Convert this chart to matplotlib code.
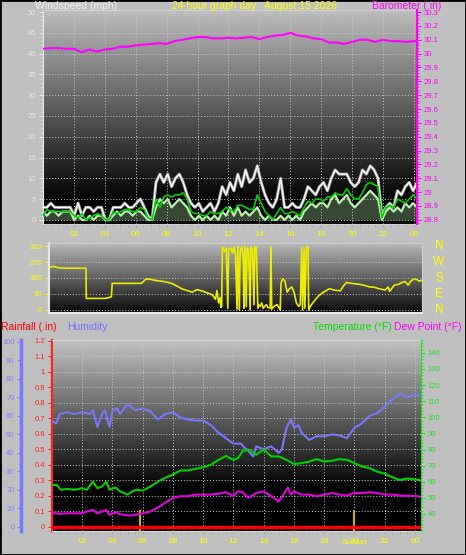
import numpy as np
import matplotlib
matplotlib.use('Agg')
import matplotlib.pyplot as plt
from matplotlib.ticker import MultipleLocator, FixedLocator, FuncFormatter
from matplotlib.transforms import blended_transform_factory
from matplotlib.patches import Rectangle

plt.rcParams['font.family'] = ['Liberation Sans', 'DejaVu Sans']

# wind (mph), one value per quarter hour
gust = [3, 3, 4, 3, 3, 3, 3, 3, 1, 4, 1, 3, 3, 2, 3, 3,
        0, 0, 3, 3, 3, 4, 3, 3, 4, 5, 3, 1, 0, 9, 11, 9,
        11, 8, 10, 11, 9, 6, 4, 3, 4, 2, 3, 4, 2, 4, 8, 6,
        9, 7, 11, 8, 12, 9, 10, 13, 9, 6, 4, 3, 5, 10, 3, 3,
        4, 3, 3, 5, 8, 7, 6, 8, 9, 7, 10, 12, 11, 11, 11, 9,
        8, 9, 12, 11, 13, 12, 10, 1, 3, 4, 3, 7, 6, 8, 9, 7, 9]
speed = [2, 1, 2, 2, 1, 2, 2, 2, 0, 1, 0, 0, 1, 0, 1, 1,
         0, 0, 1, 2, 1, 2, 2, 1, 2, 2, 1, 0, 0, 3, 5, 4,
         5, 3, 4, 5, 4, 3, 1, 0, 1, 0, 1, 0, 1, 0, 2, 1,
         3, 1, 3, 1, 2, 1, 2, 3, 1, 0, 1, 0, 0, 1, 0, 1,
         0, 1, 0, 2, 3, 4, 3, 4, 4, 3, 5, 6, 4, 5, 6, 4,
         3, 4, 5, 6, 7, 6, 5, 0, 2, 3, 2, 3, 2, 4, 3, 4, 3]
avg = [1, 2.5, 2, 2, 2, 2, 2, 2, 1, 0.5, 1.5, 0, 0.5, 1, 1.5, 1,
       0, 0, 2, 1.5, 2, 2.5, 2.5, 2, 2, 3, 2.5, 0.5, 0, 5, 3, 5.5,
       6, 5.5, 6, 6, 6.5, 5, 2, 1.5, 1.5, 1, 1, 2, 1.5, 1.5, 2, 3,
       2.5, 2, 3.5, 3.5, 3, 2.5, 2.5, 6, 4, 2, 1, 0, 1.5, 3, 1.5, 1.5,
       2, 1.5, 1, 3, 4.5, 4, 5, 5, 4.5, 5.5, 5.5, 6.5, 6, 6, 7.5, 6,
       5, 5, 6.5, 8.5, 9, 8.5, 8, 0.5, 3, 3.5, 3, 5, 4.5, 4, 5, 6, 5]

baro_t = [0, 0.5, 1, 1.5, 2, 2.5, 3, 3.5, 4, 4.5, 5, 5.5, 6, 6.5, 7, 7.5, 8, 8.5,
          9, 9.5, 10, 10.5, 11, 11.5, 12, 12.5, 13, 13.5, 14, 14.5, 15, 15.5, 16,
          16.5, 17, 17.5, 18, 18.5, 19, 19.5, 20, 20.5, 21, 21.5, 22, 22.5, 23, 23.5,
          24, 24.2]
baro = [30.035, 30.04, 30.04, 30.035, 30.035, 30.01, 30.03, 30.015, 30.03, 30.035,
        30.05, 30.05, 30.06, 30.065, 30.07, 30.075, 30.07, 30.09, 30.1, 30.11,
        30.12, 30.12, 30.11, 30.11, 30.115, 30.11, 30.115, 30.12, 30.105, 30.12,
        30.13, 30.135, 30.15, 30.13, 30.125, 30.11, 30.105, 30.08, 30.08, 30.07,
        30.085, 30.1, 30.1, 30.085, 30.1, 30.09, 30.09, 30.085, 30.09, 30.09]

# wind direction (degrees)
dir_t = [0, 0.3, 0.6, 1.0, 1.5, 2.0, 2.4, 2.42, 3.0, 3.6, 3.9, 4.05, 4.1, 5.0, 6.0, 6.3,
         6.6, 7.0, 7.3, 7.6, 8.0, 8.3, 8.6, 9.0, 9.3, 9.6, 10.0, 10.3, 10.6, 10.8, 10.9,
         11.0, 11.1, 11.15, 11.2, 11.25, 11.4, 11.5, 11.6, 11.65, 11.8, 11.9, 12.0, 12.1,
         12.2, 12.25, 12.35, 12.4, 12.5, 12.6, 12.65, 12.7, 12.8, 12.85, 12.95, 13.05,
         13.1, 13.2, 13.3, 13.35, 13.45, 13.55, 13.6, 13.7, 13.8, 13.9, 14.0, 14.1, 14.2,
         14.35, 14.4, 14.45, 14.6, 14.8, 15.0, 15.05, 15.15, 15.3, 15.45, 15.6, 15.75,
         15.9, 16.05, 16.2, 16.3, 16.4, 16.45, 16.55, 16.6, 16.7, 16.8, 16.85, 16.95,
         17.2, 17.5, 17.8, 18.0, 18.2, 18.5, 18.9, 19.1, 19.3, 19.6, 19.8, 20.1, 20.4,
         20.8, 21.1, 21.4, 21.8, 22.0, 22.1, 22.4, 22.7, 22.9, 23.1, 23.3, 23.5, 23.7,
         23.9, 24.0, 24.2]
dir_v = [240, 245, 238, 235, 235, 235, 235, 65, 65, 65, 70, 75, 150, 150, 150, 175,
         172, 165, 162, 158, 148, 135, 120, 108, 100, 115, 105, 95, 85, 60, 110,
         40, 70, 15, 20, 355, 330, 350, 10, 340,
         350, 320, 355, 310, 5, 360, 0, 330, 355, 300, 10, 360, 20, 350, 340, 0,
         355, 340, 30, 360, 350, 10, 30, 20, 40, 10, 20, 30, 15,
         10, 355, 5, 20, 30, 0, 150, 175, 165, 100, 120, 130,
         100, 40, 20, 30, 350, 0, 340, 10, 355, 360, 0, 20,
         50, 80, 100, 110, 120, 112, 108, 135, 155, 150, 148, 145, 140,
         130, 128, 120, 112, 130, 105, 140, 145, 155, 160, 140, 165, 175,
         170, 162, 168]

# humidity (%), temperature and dew point (F), rainfall (in)
hum_t = [0, 0.3, 0.5, 1, 1.5, 2, 2.5, 2.7, 3, 3.3, 3.5, 3.8, 4, 4.3, 4.5, 5, 5.5, 6,
         6.5, 7, 7.5, 8, 8.5, 9, 9.5, 10, 10.5, 11, 11.5, 12, 12.5, 12.7, 13, 13.3,
         13.5, 14, 14.5, 15, 15.2, 15.5, 15.8, 16, 16.3, 16.5, 17, 17.5, 18, 18.5, 19,
         19.5, 20, 20.5, 21, 21.5, 22, 22.5, 23, 23.5, 24, 24.3]
hum = [57, 56, 61, 62, 61, 62, 61, 63, 54, 61, 63, 54, 63, 64, 61, 66.5, 63, 64,
       62.5, 58, 61, 62, 59, 58, 57.5, 57.5, 55, 51, 48, 45, 45, 43, 41, 38,
       43.5, 42, 43.5, 40, 42, 53.5, 58, 53.5, 55, 51, 47, 49, 49, 50, 49.5,
       48, 53.5, 56, 60, 61.5, 65, 69, 72, 70, 71.5, 71]

temp_t = [0, 0.3, 0.6, 1, 1.5, 2, 2.3, 2.7, 3, 3.3, 3.6, 3.8, 4.2, 4.5, 5, 5.3, 5.6, 6,
          6.5, 7, 7.5, 8, 8.5, 9, 9.5, 10, 10.5, 11, 11.5, 12, 12.3, 12.6, 13, 13.5, 14,
          14.5, 15, 15.5, 16, 16.5, 17, 17.5, 18, 18.5, 19, 19.5, 20, 20.5, 21, 21.5,
          22, 22.5, 23, 23.5, 24, 24.3]
temp = [58, 58, 55, 55.5, 55, 56, 55, 60, 56, 57, 60, 55, 56.5, 54, 52, 54, 55, 54.5,
        57, 60, 62.5, 64.5, 67, 67, 68, 69, 70.5, 73.5, 76, 73.5, 74.6, 79, 80, 76.7, 80,
        75.7, 75.7, 73.6, 71, 71.5, 72.5, 74, 72.5, 73, 74, 73.6, 71.5, 69.5, 68.4, 66.3,
        65, 62.8, 61, 62, 61.5, 61]

dew_t = [0, 0.5, 1, 1.5, 2, 2.3, 2.7, 3, 3.3, 3.6, 3.8, 4.2, 4.5, 5, 5.5, 6, 6.5, 7,
         7.5, 8, 8.5, 9, 9.5, 10, 10.5, 11, 11.5, 12, 12.3, 12.6, 13, 13.5, 14, 14.5, 15,
         15.3, 15.6, 15.8, 16, 16.5, 17, 17.5, 18, 18.5, 19, 19.5, 20, 20.5, 21, 21.5,
         22, 22.5, 23, 23.5, 24, 24.3]
dew = [41, 40, 40.4, 40.4, 40.4, 41.5, 42.5, 40.4, 41.5, 42.5, 39.4, 41, 39.8, 39,
       39.4, 40.4, 41.5, 44, 47, 50, 51, 51, 52, 52, 52, 52.5, 53.5, 51, 54, 53.5,
       50, 53, 54, 51, 47.7, 52, 56.4, 52, 54, 52, 52, 51, 52, 53, 52, 51.4, 53, 53,
       53.5, 53, 52, 52, 51.4, 51.2, 51.2, 50.8]

rain_t = [0, 24.4]
rain = [0, 0]

sunrise = 5.8
sunset = 20.0

hour_ticks = list(range(2, 25, 2))
hour_labels = ['02', '04', '06', '08', '10', '12', '14', '16', '18', '20', '22', '00']

W, H = 466, 555
BG = '#c0c0c0'
fig = plt.figure(figsize=(W / 100, H / 100), dpi=100, facecolor=BG)


def px_axes(x0, y0, x1, y1):
    return fig.add_axes([x0 / W, 1 - y1 / H, (x1 - x0) / W, (y1 - y0) / H])


def shade(ax, top, stop):
    x0, x1 = ax.get_xlim()
    y0, y1 = ax.get_ylim()
    t = np.linspace(0, 1, 256)[:, None]
    g = np.clip(top * (1 - t / stop), 0, 1)
    ax.imshow(g, extent=[x0, x1, y0, y1], origin='upper', aspect='auto',
              cmap='gray', vmin=0, vmax=1, zorder=0, interpolation='bilinear')
    ax.set_xlim(x0, x1)
    ax.set_ylim(y0, y1)


def hide_spines(ax, keep):
    for k, s in ax.spines.items():
        s.set_visible(k in keep)


grid_kw = dict(color='#c8c8c8', linestyle=(0, (1, 2)), linewidth=0.7)

# ---- wind speed / barometer ----
ax1 = px_axes(43, 10, 417, 224)
ax1.set_xlim(0, 24.2)
ax1.set_ylim(-1, 50.5)
shade(ax1, 0.74, 0.9)
tw = np.linspace(0, 24.2, len(gust))
ax1.plot(tw, gust, color='#a0a0a0', lw=2.2, zorder=2)
ax1.plot(tw, gust, color='white', lw=1.0, zorder=3)
ax1.fill_between(tw, 0, speed, color='#b8f0b0', alpha=0.3, lw=0, zorder=3)
ax1.plot(tw, speed, color='#b8f0b0', lw=1.6, zorder=4)
ax1.plot(tw, avg, color='#00d000', lw=1.2, zorder=5)
ax1.set_yticks(range(0, 51, 5))
ax1.yaxis.set_minor_locator(MultipleLocator(1))
ax1.set_xticks(hour_ticks)
ax1.set_xticklabels(hour_labels)
ax1.xaxis.set_minor_locator(MultipleLocator(0.5))
ax1.tick_params(axis='y', which='both', colors='#e8e8e8', labelsize=5.5, pad=2)
ax1.tick_params(axis='y', which='major', length=3)
ax1.tick_params(axis='y', which='minor', length=1.5)
ax1.tick_params(axis='x', which='both', colors='#a8a8a8', labelcolor='#ffff00',
                labelsize=6, length=2, pad=3)
ax1.grid(True, **grid_kw)
for k in ['top', 'bottom']:
    ax1.spines[k].set_color('#d0d0d0')
ax1.spines['left'].set_color('#e8e8e8')
ax1.spines['right'].set_visible(False)

ax1b = ax1.twinx()
ax1b.set_ylim(28.77, 30.315)
ax1b.plot(baro_t, baro, color='#ff00ff', lw=1.5, zorder=6)
ax1b.yaxis.set_major_locator(FixedLocator(np.round(np.arange(28.8, 30.31, 0.1), 1)))
ax1b.yaxis.set_minor_locator(MultipleLocator(0.02))
ax1b.yaxis.set_major_formatter(FuncFormatter(lambda v, _: f'{round(v, 1):g}'))
ax1b.tick_params(axis='y', which='both', colors='#ff00ff', labelsize=5.5, pad=2)
ax1b.tick_params(axis='y', which='major', length=3)
ax1b.tick_params(axis='y', which='minor', length=1.5)
hide_spines(ax1b, ['right'])
ax1b.spines['right'].set_color('#ff00ff')
ax1b.spines['right'].set_linewidth(1.5)

# ---- wind direction ----
ax2 = px_axes(49, 243, 422, 313)
ax2.set_xlim(0, 24.2)
ax2.set_ylim(-17, 377)
shade(ax2, 0.72, 1.05)
ax2.plot(dir_t, dir_v, color='#ecec00', lw=1.2, zorder=3)
ax2.set_yticks([0, 90, 180, 270, 360])
ax2.yaxis.set_minor_locator(MultipleLocator(15))
ax2.set_xticks([])
ax2.tick_params(axis='y', which='both', colors='#ffff00', labelsize=5.5, pad=2)
ax2.tick_params(axis='y', which='major', length=3)
ax2.tick_params(axis='y', which='minor', length=1.5)
ax2.yaxis.grid(True, **grid_kw)
for k in ['left', 'bottom']:
    ax2.spines[k].set_color('#e8e8e8')
    ax2.spines[k].set_linewidth(1.5)
for k in ['top', 'right']:
    ax2.spines[k].set_color('#d0d0d0')
tr = blended_transform_factory(ax2.transAxes, ax2.transData)
for lab, v in zip(['N', 'W', 'S', 'E', 'N'], [360, 270, 180, 90, 0]):
    ax2.text(1.0456, v, lab, transform=tr, color='#ffff00', fontsize=8.5,
             ha='center', va='center')

# ---- rainfall / humidity / temperature ----
ax3 = px_axes(52, 340, 421, 531)
ax3.set_xlim(0, 24.4)
ax3.set_ylim(-0.026, 1.205)
shade(ax3, 0.76, 0.78)
ax3.set_yticks(np.round(np.arange(0, 1.21, 0.1), 1))
ax3.yaxis.set_major_formatter(FuncFormatter(lambda v, _: f'{round(v, 1):g}'))
ax3.yaxis.set_minor_locator(MultipleLocator(0.025))
ax3.set_xticks(hour_ticks)
ax3.set_xticklabels(hour_labels)
ax3.xaxis.set_minor_locator(MultipleLocator(0.5))
ax3.tick_params(axis='y', which='both', colors='#ff2020', labelsize=5.5, pad=2)
ax3.tick_params(axis='y', which='major', length=3)
ax3.tick_params(axis='y', which='minor', length=1.5)
ax3.tick_params(axis='x', which='both', colors='#a8a8a8', labelcolor='#ffff00',
                labelsize=6, length=2, pad=3)
ax3.grid(True, **grid_kw)
ax3.spines['left'].set_color('#ff2020')
ax3.spines['left'].set_linewidth(1.5)
ax3.spines['right'].set_visible(False)
for k in ['top', 'bottom']:
    ax3.spines[k].set_color('#d0d0d0')
for h in [sunrise, sunset]:
    ax3.plot([h, h], [-0.026, 0.1], color='#c8b400', lw=1.5, zorder=4)
ax3.text(sunset, -0.058, 'Sunset', transform=blended_transform_factory(ax3.transData, ax3.transAxes),
         color='#ffff00', fontsize=6, ha='center', va='center')

ax3h = ax3.twinx()
ax3h.set_ylim(-2.2, 101)
ax3h.plot(hum_t, hum, color='#7878f8', lw=1.5, zorder=3)
ax3h.yaxis.set_ticks_position('left')
ax3h.set_yticks(range(0, 101, 10))
ax3h.yaxis.set_minor_locator(MultipleLocator(2))
hide_spines(ax3h, ['left'])
ax3h.spines['left'].set_position(('outward', 22))
ax3h.spines['left'].set_color('#7878ff')
ax3h.spines['left'].set_linewidth(2.5)
ax3h.tick_params(axis='y', which='both', colors='#8080ff', labelsize=5.5, pad=2)
ax3h.tick_params(axis='y', which='major', length=3)
ax3h.tick_params(axis='y', which='minor', length=1.5)

ax3t = ax3.twinx()
ax3t.set_ylim(29.4, 148)
ax3t.plot(temp_t, temp, color='#00d000', lw=1.5, zorder=3)
ax3t.plot(dew_t, dew, color='#e000e0', lw=1.5, zorder=3)
ax3t.set_yticks(range(40, 141, 10))
ax3t.yaxis.set_minor_locator(MultipleLocator(2))
hide_spines(ax3t, ['right'])
ax3t.spines['right'].set_color('#20e020')
ax3t.tick_params(axis='y', which='both', colors='#20e020', labelsize=5.5, pad=2)
ax3t.tick_params(axis='y', which='major', length=3)
ax3t.tick_params(axis='y', which='minor', length=1.5)

ax3r = ax3.twinx()
ax3r.set_ylim(ax3.get_ylim())
ax3r.plot(rain_t, rain, color='#ff0000', lw=2.5)
ax3r.set_yticks([])
hide_spines(ax3r, [])

# ---- header texts ----
def ftext(x, y, s, c):
    fig.text(x / W, 1 - y / H, s, color=c, fontsize=7.5, ha='left', va='center')


ftext(35, 6, 'Windspeed (mph)', '#f0f0f0')
ftext(172, 6, '24 hour graph day : August 15 2026', '#ffff00')
ftext(372, 6, 'Barometer (.in)', '#ff00ff')
ftext(1, 327, 'Rainfall (.in)', '#ff0000')
ftext(67, 327, 'Humidity', '#7070ff')
ftext(313, 327, 'Temperature (°F)', '#00e000')
ftext(394, 327, 'Dew Point (°F)', '#ff00ff')

fig.patches.append(Rectangle((0, 0), 1, 1, transform=fig.transFigure, fill=False,
                             edgecolor='black', linewidth=2))

fig.savefig('out.png', dpi=100, facecolor=BG)
